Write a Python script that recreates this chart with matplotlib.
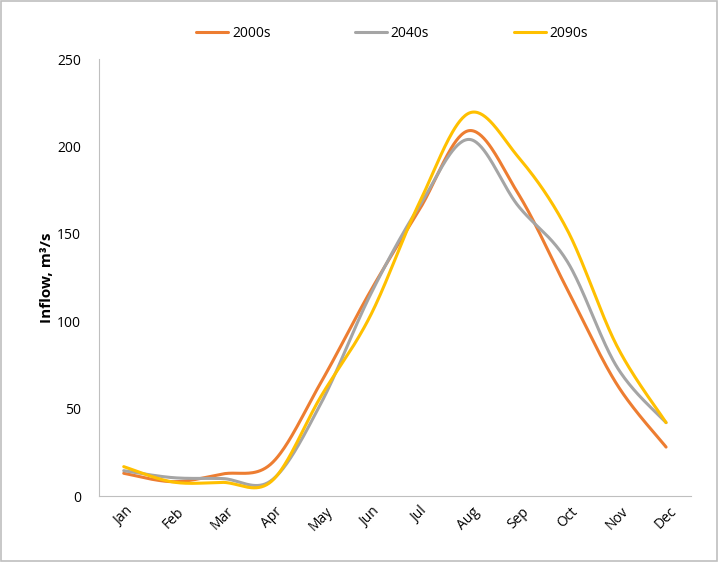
import numpy as np
from matplotlib import pyplot as plt

months = ['Jan', 'Feb', 'Mar', 'Apr', 'May', 'Jun', 'Jul', 'Aug', 'Sep', 'Oct', 'Nov', 'Dec']
inflow_2000s = [13, 8.2, 12.6, 18.7, 65, 117, 164, 209, 173, 118, 64, 28]
inflow_2040s = [14.5, 10.5, 10, 9, 53, 115, 166, 204, 166, 134, 74, 42]
inflow_2090s = [16.8, 8, 7.8, 8.5, 57, 103, 168, 219, 194, 152, 86, 42]

series_names = ['2000s', '2040s', '2090s']
series_colors = ['#ED7D31', '#A5A5A5', '#FFC000']


def smooth(x, y, n=40):
    # Excel-like smoothed line: cubic bezier with catmull-rom control points
    x = np.asarray(x, float)
    y = np.asarray(y, float)
    px = np.concatenate([[x[0]], x, [x[-1]]])
    py = np.concatenate([[y[0]], y, [y[-1]]])
    t = np.linspace(0, 1, n)[:, None]
    xs, ys = [], []
    for i in range(len(x) - 1):
        p0 = np.array([px[i + 1], py[i + 1]])
        p3 = np.array([px[i + 2], py[i + 2]])
        c1 = p0 + (np.array([px[i + 2], py[i + 2]]) - np.array([px[i], py[i]])) / 6
        c2 = p3 - (np.array([px[i + 3], py[i + 3]]) - np.array([px[i + 1], py[i + 1]])) / 6
        pts = ((1 - t) ** 3) * p0 + 3 * ((1 - t) ** 2) * t * c1 + 3 * (1 - t) * t ** 2 * c2 + t ** 3 * p3
        xs.append(pts[:, 0])
        ys.append(pts[:, 1])
    return np.concatenate(xs), np.concatenate(ys)


plt.rcParams['font.family'] = ['Open Sans', 'DejaVu Sans']
fig = plt.figure(figsize=(7.18, 5.62), dpi=100)
ax = fig.add_axes([0.138, 0.1174, 0.824, 0.7776])

xpos = np.arange(len(months))
for name, vals, col in zip(series_names, [inflow_2000s, inflow_2040s, inflow_2090s], series_colors):
    sx, sy = smooth(xpos, vals)
    ax.plot(sx, sy, color=col, lw=2.2, label=name, solid_capstyle='round')

ax.set_xlim(-0.5, len(months) - 0.5)
ax.set_ylim(0, 250)
ax.set_yticks(range(0, 251, 50))
ax.set_xticks(xpos)
ax.set_xticklabels(months, rotation=45, fontsize=10)
ax.tick_params(axis='y', labelsize=10, length=0, pad=13)
ax.tick_params(axis='x', length=0, pad=6)
for s in ['top', 'right']:
    ax.spines[s].set_visible(False)
for s in ['left', 'bottom']:
    ax.spines[s].set_color('#BFBFBF')
ax.set_ylabel('Inflow, m\u00b3/s', fontsize=11, fontweight='bold', labelpad=2)

fig.legend(loc='center', bbox_to_anchor=(0.546, 0.94), ncol=3, frameon=False,
           fontsize=10, handlelength=2.3, columnspacing=6.1, handletextpad=0.25)

# light frame round the figure
fig.patches.append(plt.Rectangle((0.001, 0.001), 0.997, 0.997, transform=fig.transFigure,
                                 fill=False, edgecolor='#BFBFBF', lw=1.2))

plt.savefig('out.png', dpi=100)
